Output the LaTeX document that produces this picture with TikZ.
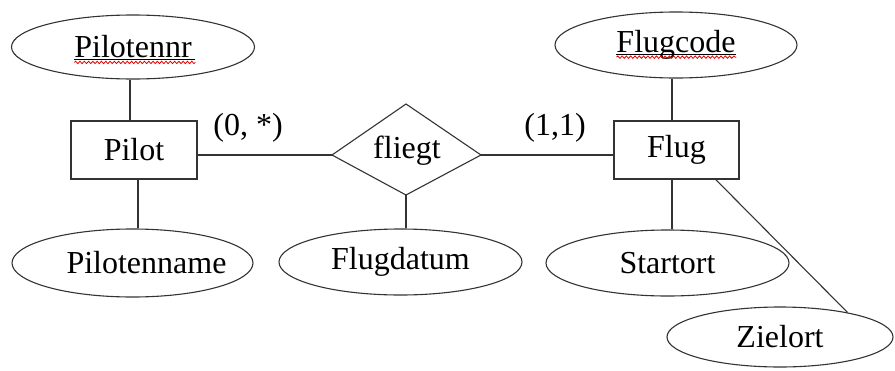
\documentclass[tikz,border=0pt]{standalone}
\usepackage{fontspec}
\setmainfont{Liberation Serif}
\usetikzlibrary{shapes.geometric,decorations.pathmorphing,calc}
\begin{document}
\begin{tikzpicture}[x=1pt,y=-1pt,
  every node/.style={font=\fontsize{32}{38}\selectfont, text=black},
  conn/.style={draw=black!80, line width=1.1pt},
  attr/.style={ellipse, draw=black!80, line width=1.1pt, inner sep=0pt},
  entity/.style={rectangle, draw=black!80, line width=1.1pt, inner sep=0pt},
  relshape/.style={draw=black!80, line width=1.1pt, line join=miter},
  keyline/.style={black, line width=1pt},
  spellwave/.style={red!90!black, line width=0.8pt, decorate,
    decoration={snake, amplitude=1.2pt, segment length=4.3pt}}
]
\useasboundingbox (0,0) rectangle (895,370);

% entities
\node[entity, minimum width=126, minimum height=58] (pilot) at (134,150) {Pilot};
\node[entity, minimum width=125, minimum height=58] (flug) at (676.5,150) {Flug};

% relationship (diamond drawn through its corners)
\coordinate (flN) at (406,104);
\coordinate (flS) at (406,195);
\coordinate (flW) at (332,155);
\coordinate (flE) at (481,155);
\draw[relshape] (flN) -- (flE) -- (flS) -- (flW) -- cycle;
\node[inner sep=0pt] (fliegt) at (407,151) {fliegt};

% attributes
\node[attr, minimum width=243, minimum height=64] (pnr) at (133,47) {Pilotennr\hspace{13pt}};
\node[attr, minimum width=242, minimum height=66] (fc) at (676,45) {Flugcode\hspace{12pt}};
\node[attr, minimum width=241, minimum height=68] (pname) at (132.5,263) {\hspace*{14pt}Pilotenname\hspace*{-14pt}};
\node[attr, minimum width=243, minimum height=66] (fd) at (400.5,262) {Flugdatum};
\node[attr, minimum width=243, minimum height=66] (so) at (667.5,263) {Startort};
\node[attr, minimum width=226, minimum height=60] (zo) at (780,337) {Zielort};

% key attributes: underline and wavy spelling mark
\draw[keyline] ($(pnr.text)+(0,1.8)$) -- ++(121,0);
\draw[spellwave] ($(pnr.text)+(0,4.5)$) -- ++(121,0);
\draw[keyline] ($(fc.text)+(0,1.8)$) -- ++(120,0);
\draw[spellwave] ($(fc.text)+(0,4.5)$) -- ++(120,0);

% connectors
\draw[conn] ([xshift=-4pt]pilot.north) -- ([xshift=-4pt]pilot.north |- pnr.south);
\draw[conn] ([xshift=4pt]pilot.south) -- ([xshift=4pt]pilot.south |- pname.north);
\draw[conn] (flW -| pilot.east) -- (flW);
\draw[conn] (flE) -- (flE -| flug.west);
\draw[conn] (flS) -- (flS |- fd.north);
\draw[conn] ([xshift=-4.5pt]flug.north) -- ([xshift=-4.5pt]flug.north |- fc.south);
\draw[conn] ([xshift=-4.5pt]flug.south) -- ([xshift=-4.5pt]flug.south |- so.north);
\draw[conn] (flug.-37) -- (zo.20);

% cardinalities
\node (cardP) at (248,128) {(0, *)};
\node (cardF) at (555,128) {(1,1)};
\end{tikzpicture}
\end{document}
